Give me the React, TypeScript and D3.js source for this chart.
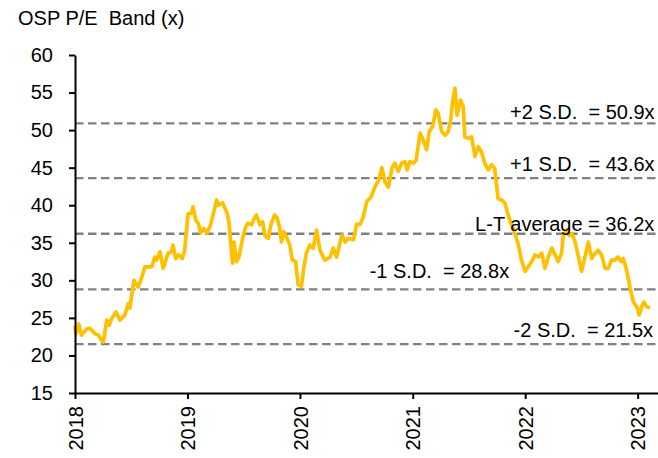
import React, { useEffect, useRef } from 'react';
import * as d3 from 'd3';

// OSP P/E
const dates = [
  '2018-01-01', '2018-01-04', '2018-01-13', '2018-01-22', '2018-02-08', '2018-02-19', '2018-03-07', '2018-03-18',
  '2018-03-29', '2018-04-03', '2018-04-14', '2018-04-22', '2018-04-30', '2018-05-14', '2018-05-27', '2018-06-12',
  '2018-06-23', '2018-06-28', '2018-07-11', '2018-07-25', '2018-08-05', '2018-08-16', '2018-09-07', '2018-09-17',
  '2018-09-23', '2018-10-04', '2018-10-14', '2018-10-30', '2018-11-10', '2018-11-15', '2018-11-24', '2018-12-04',
  '2018-12-15', '2018-12-23', '2019-01-03', '2019-01-14', '2019-01-19', '2019-01-28', '2019-02-05', '2019-02-13',
  '2019-02-23', '2019-03-06', '2019-03-17', '2019-03-26', '2019-04-06', '2019-04-11', '2019-04-25', '2019-05-10',
  '2019-05-16', '2019-05-27', '2019-06-01', '2019-06-09', '2019-06-17', '2019-06-30', '2019-07-09', '2019-07-16',
  '2019-07-28', '2019-08-03', '2019-08-13', '2019-08-24', '2019-09-02', '2019-09-09', '2019-09-20', '2019-09-30',
  '2019-10-11', '2019-10-19', '2019-10-27', '2019-11-02', '2019-11-09', '2019-11-18', '2019-11-29', '2019-12-07',
  '2019-12-18', '2019-12-26', '2020-01-06', '2020-01-14', '2020-01-22', '2020-02-02', '2020-02-13', '2020-02-24',
  '2020-03-06', '2020-03-22', '2020-04-08', '2020-04-18', '2020-04-29', '2020-05-16', '2020-05-27', '2020-06-06',
  '2020-06-23', '2020-07-03', '2020-07-14', '2020-07-25', '2020-08-05', '2020-08-19', '2020-09-01', '2020-09-11',
  '2020-09-23', '2020-10-03', '2020-10-14', '2020-10-26', '2020-11-04', '2020-11-15', '2020-11-26', '2020-12-07',
  '2020-12-14', '2020-12-23', '2021-01-03', '2021-01-12', '2021-01-25', '2021-02-04', '2021-02-15', '2021-02-24',
  '2021-03-07', '2021-03-17', '2021-03-25', '2021-04-05', '2021-04-16', '2021-04-26', '2021-05-04', '2021-05-10',
  '2021-05-18', '2021-05-25', '2021-06-05', '2021-06-14', '2021-06-19', '2021-06-30', '2021-07-11', '2021-07-22',
  '2021-08-02', '2021-08-12', '2021-08-23', '2021-09-03', '2021-09-14', '2021-09-24', '2021-10-05', '2021-10-16',
  '2021-10-27', '2021-11-12', '2021-11-28', '2021-12-09', '2021-12-20', '2022-01-01', '2022-01-11', '2022-01-22',
  '2022-02-02', '2022-02-13', '2022-02-24', '2022-03-06', '2022-03-17', '2022-03-28', '2022-04-08', '2022-04-18',
  '2022-04-29', '2022-05-04', '2022-05-15', '2022-05-24', '2022-06-02', '2022-06-12', '2022-06-23', '2022-07-03',
  '2022-07-14', '2022-07-25', '2022-08-05', '2022-08-16', '2022-08-26', '2022-09-06', '2022-09-17', '2022-09-28',
  '2022-10-08', '2022-10-19', '2022-10-29', '2022-11-09', '2022-11-15', '2022-11-26', '2022-12-07', '2022-12-18',
  '2022-12-29', '2023-01-06', '2023-01-14', '2023-01-21', '2023-01-30', '2023-02-10',
];
const peValues = [
  24.0, 22.9, 24.2, 22.7, 23.5, 23.6, 22.9, 22.7,
  22.0, 21.8, 24.7, 24.0, 24.9, 25.8, 24.7, 25.4,
  26.9, 26.3, 30.0, 29.1, 30.3, 31.8, 31.8, 33.1,
  32.7, 33.8, 31.6, 33.6, 33.8, 34.7, 32.9, 33.4,
  32.9, 34.0, 38.9, 38.9, 39.8, 38.0, 37.6, 36.3,
  36.9, 36.3, 37.4, 38.9, 40.7, 40.0, 40.3, 38.9,
  37.6, 32.3, 35.1, 32.5, 33.1, 35.8, 37.1, 37.6,
  37.4, 38.0, 38.7, 37.4, 37.8, 36.0, 35.6, 37.6,
  38.7, 38.3, 37.1, 35.1, 36.5, 35.8, 34.7, 32.7,
  32.5, 29.4, 29.2, 31.8, 33.6, 34.7, 34.3, 36.7,
  34.0, 32.7, 33.1, 34.3, 33.1, 36.0, 35.1, 35.6,
  35.4, 37.5, 37.4, 38.5, 40.5, 41.1, 42.5, 43.2,
  45.0, 43.1, 42.4, 45.0, 45.6, 44.5, 45.6, 45.8,
  44.7, 45.8, 45.6, 46.0, 49.6, 48.7, 47.4, 49.8,
  50.5, 52.7, 52.2, 49.8, 49.3, 49.8, 51.3, 53.6,
  55.6, 52.0, 54.0, 53.1, 49.1, 48.9, 49.1, 46.5,
  47.8, 47.1, 45.6, 44.7, 45.4, 44.9, 40.9, 40.7,
  40.3, 38.0, 36.3, 34.9, 32.7, 31.2, 31.8, 32.5,
  33.4, 33.1, 33.6, 31.6, 33.1, 34.3, 33.4, 32.5,
  33.6, 35.8, 36.7, 36.0, 36.2, 35.1, 33.1, 31.2,
  33.1, 35.1, 32.9, 33.6, 34.0, 33.4, 31.6, 31.6,
  32.7, 32.7, 33.1, 32.5, 32.9, 31.4, 29.1, 27.1,
  26.5, 25.4, 26.5, 27.1, 26.5, 26.3,
];

// band lines and their labels
const bandValues = [50.9, 43.6, 36.2, 28.8, 21.5];
const bandLabels = ['+2 S.D.  = 50.9x', '+1 S.D.  = 43.6x', 'L-T average = 36.2x', '-1 S.D.  = 28.8x', '-2 S.D.  = 21.5x'];
const bandLabelEnds = ['2023-02-25', '2023-02-25', '2023-02-24', '2021-11-10', '2023-02-20'];
const bandLabelValues = [51.5, 44.6, 36.6, 30.3, 22.4];

const yTicks = [15, 20, 25, 30, 35, 40, 45, 50, 55, 60];
const xTicks = ['2018-01-01', '2019-01-01', '2020-01-01', '2021-01-01', '2022-01-01', '2023-01-01'];
const xDomain = ['2018-01-01', '2023-03-08'];

const W = 658;
const H = 458;
const FONT = '"Liberation Sans", Arial, sans-serif';

export default function App() {
  const ref = useRef<SVGSVGElement>(null);

  useEffect(() => {
    const svg = d3.select(ref.current);
    svg.selectAll('*').remove();

    const parse = d3.timeParse('%Y-%m-%d');
    const margin = { top: 55, right: 0, bottom: 65, left: 75 };

    const x = d3.scaleTime()
      .domain(xDomain.map(d => parse(d)))
      .range([margin.left, W - margin.right]);

    const y = d3.scaleLinear()
      .domain([15, 60])
      .range([H - margin.bottom, margin.top]);

    // title
    svg.append('text')
      .attr('x', 18)
      .attr('y', 25)
      .style('font-family', FONT)
      .style('font-size', '20px')
      .style('white-space', 'pre')
      .attr('fill', '#000')
      .text('OSP P/E  Band (x)');

    // dashed band lines
    svg.append('g').selectAll('line')
      .data(bandValues)
      .join('line')
      .attr('x1', margin.left)
      .attr('x2', W)
      .attr('y1', d => y(d))
      .attr('y2', d => y(d))
      .attr('stroke', '#808080')
      .attr('stroke-width', 2.3)
      .attr('stroke-dasharray', '8.5,4.5');

    // pe line
    const line = d3.line<number>()
      .x((d, i) => x(parse(dates[i])))
      .y(d => y(d));

    svg.append('path')
      .datum(peValues)
      .attr('fill', 'none')
      .attr('stroke', '#FFC000')
      .attr('stroke-width', 3.7)
      .attr('stroke-linejoin', 'round')
      .attr('d', line);

    // band labels
    svg.append('g').selectAll('text')
      .data(bandLabels)
      .join('text')
      .attr('x', (d, i) => x(parse(bandLabelEnds[i])))
      .attr('y', (d, i) => y(bandLabelValues[i]))
      .attr('text-anchor', 'end')
      .style('font-family', FONT)
      .style('font-size', '20px')
      .style('white-space', 'pre')
      .attr('fill', '#000')
      .text(d => d);

    // y axis
    const yAxis = svg.append('g')
      .attr('transform', 'translate(' + margin.left + ',0)')
      .call(d3.axisLeft(y).tickValues(yTicks).tickSize(6).tickSizeOuter(0).tickPadding(16));

    // x axis
    const xAxis = svg.append('g')
      .attr('transform', 'translate(0,' + (H - margin.bottom) + ')')
      .call(d3.axisBottom(x)
        .tickValues(xTicks.map(d => parse(d)))
        .tickFormat(d3.timeFormat('%Y'))
        .tickSize(6)
        .tickSizeOuter(0));

    xAxis.selectAll('.tick text')
      .attr('transform', 'rotate(-90)')
      .attr('text-anchor', 'end')
      .attr('x', -13)
      .attr('y', 0)
      .attr('dy', '0.36em');

    [yAxis, xAxis].forEach(a => {
      a.select('.domain').attr('stroke', '#000').attr('stroke-width', 2);
      a.selectAll('.tick line').attr('stroke', '#000').attr('stroke-width', 2);
      a.selectAll('.tick text')
        .attr('fill', '#000')
        .style('font-family', FONT)
        .style('font-size', '20px');
    });
  }, []);

  return (
    <svg ref={ref} width={W} height={H}
      style={{ position: 'absolute', left: 0, top: 0, background: '#fff' }} />
  );
}
